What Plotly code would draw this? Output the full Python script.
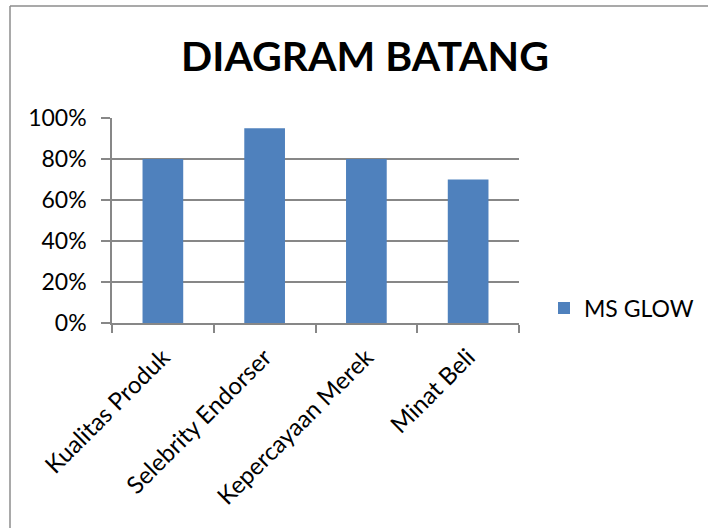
import plotly.graph_objects as go

categories = ["Kualitas Produk", "Selebrity Endorser", "Kepercayaan Merek", "Minat Beli"]
values = [0.80, 0.95, 0.80, 0.70]
series_name = "MS GLOW"
y_ticks = [0, 0.2, 0.4, 0.6, 0.8, 1.0]
y_tick_labels = ["0%", "20%", "40%", "60%", "80%", "100%"]

W, H = 708, 528
L, R, T, B = 112, 519, 118, 323
pw, ph = R - L, B - T

def px(x):
    return (x - L) / pw

def py(y):
    return (B - y) / ph

FONT = "Lato"
GRID = "#878787"

fig = go.Figure()
fig.add_trace(go.Bar(
    x=categories, y=values, name=series_name,
    marker=dict(color="#4F81BD", line=dict(width=0)),
    width=0.4,
))

fig.update_layout(
    width=W, height=H,
    margin=dict(l=L, r=W - R, t=T, b=H - B, pad=0, autoexpand=False),
    paper_bgcolor="white", plot_bgcolor="white",
    font=dict(family=FONT, size=18, color="black"),
    title=dict(text="<b>DIAGRAM BATANG</b>", x=365 / W, xanchor="center",
               y=1 - 57 / H, yanchor="middle", font=dict(size=41, family=FONT)),
    showlegend=True,
    legend=dict(x=px(544), y=py(308), xanchor="left", yanchor="middle",
                font=dict(size=23, family=FONT), bgcolor="rgba(0,0,0,0)"),
    bargap=0.6,
    xaxis=dict(
        type="category", tickangle=-45, tickson="boundaries",
        ticks="outside", ticklen=8, tickcolor=GRID, tickwidth=1.5,
        showline=True, linecolor=GRID, linewidth=1.5,
        showgrid=False, tickfont=dict(size=24, family=FONT),
        ticklabelstandoff=9, automargin=False,
    ),
    yaxis=dict(
        range=[0, 1.0], tickvals=y_ticks, ticktext=y_tick_labels,
        ticks="outside", ticklen=9, tickcolor=GRID, tickwidth=1.5,
        showline=True, linecolor=GRID, linewidth=1.5,
        showgrid=True, gridcolor=GRID, gridwidth=1.5,
        zeroline=False, tickfont=dict(size=23, family=FONT),
        ticklabelstandoff=10, automargin=False,
    ),
    shapes=[
        dict(type="line", xref="paper", yref="paper",
             x0=px(10), x1=px(10), y0=py(W), y1=py(6),
             line=dict(color="#8c8c8c", width=1.5)),
        dict(type="line", xref="paper", yref="paper",
             x0=px(10), x1=px(W + 5), y0=py(6), y1=py(6),
             line=dict(color="#8c8c8c", width=1.5)),
    ],
)

fig.write_html("out.html")
